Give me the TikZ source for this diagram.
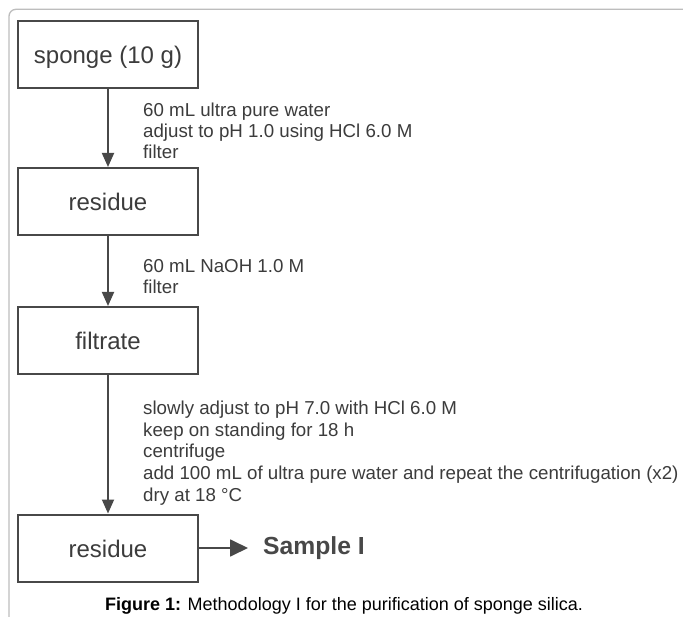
\documentclass[tikz,border=0pt]{standalone}
\usepackage{fontspec}
\setmainfont{Liberation Sans}
\usetikzlibrary{arrows.meta}
\definecolor{framec}{HTML}{BDBDBD}
\definecolor{ink}{HTML}{484848}
\definecolor{txt}{HTML}{3C3C3C}
\begin{document}
\begin{tikzpicture}[x=1pt,y=-1pt,
  box/.style={draw=ink, line width=2pt, minimum width=180pt, minimum height=67pt, inner sep=0pt, text=txt, font=\fontsize{24}{28}\selectfont, text height=19pt, text depth=1pt},
  note/.style={anchor=base west, inner sep=0pt, text=txt, font=\fontsize{18.7}{21}\selectfont},
  flow/.style={draw=ink, line width=1.8pt, -{Triangle[length=14pt,width=12pt]}},
  hflow/.style={draw=ink, line width=1.8pt, -{Triangle[length=18pt,width=17pt]}, shorten >=15pt},
]
\useasboundingbox (0,0) rectangle (683,617);
\fill[white] (0,0) rectangle (683,617);
\draw[framec, line width=1.3pt, rounded corners=7pt] (9,625) -- (9,9.3) -- (690,9.3);

\node[box] (sponge) at (108,54.5) {sponge (10 g)};
\node[box] (res1) at (108,201.5) {residue};
\node[box] (filt) at (108,340.5) {filtrate};
\node[box] (res2) at (108,548) {residue};

\draw[flow] (sponge) -- (res1);
\draw[flow] (res1) -- (filt);
\draw[flow] (filt) -- (res2);

\node[note] (n1a) at (143,117) {60 mL ultra pure water};
\node[note] (n1b) at (143,137.7) {adjust to pH 1.0 using HCl 6.0 M};
\node[note] (n1c) at (143,158.4) {filter};

\node[note] (n2a) at (143,273) {60 mL NaOH 1.0 M};
\node[note] (n2b) at (143,294) {filter};

\node[note] (n3a) at (143,415) {slowly adjust to pH 7.0 with HCl 6.0 M};
\node[note] (n3b) at (143,436.5) {keep on standing for 18 h};
\node[note] (n3c) at (143,458) {centrifuge};
\node[note] (n3d) at (143,479.5) {add 100 mL of ultra pure water and repeat the centrifugation (x2)};
\node[note] (n3e) at (143,501) {dry at 18 °C};

\node[anchor=base west, inner sep=0pt, text=ink, font=\bfseries\fontsize{24.7}{28}\selectfont] (sample) at (263,554) {Sample I};
\draw[hflow] (res2.east) -- (res2.east -| sample.west);

\node[anchor=base, inner sep=0pt, text=black, font=\fontsize{18}{22}\selectfont] (cap) at (344,610.5) {\textbf{Figure 1:} Methodology I for the purification of sponge silica.};
\end{tikzpicture}
\end{document}
